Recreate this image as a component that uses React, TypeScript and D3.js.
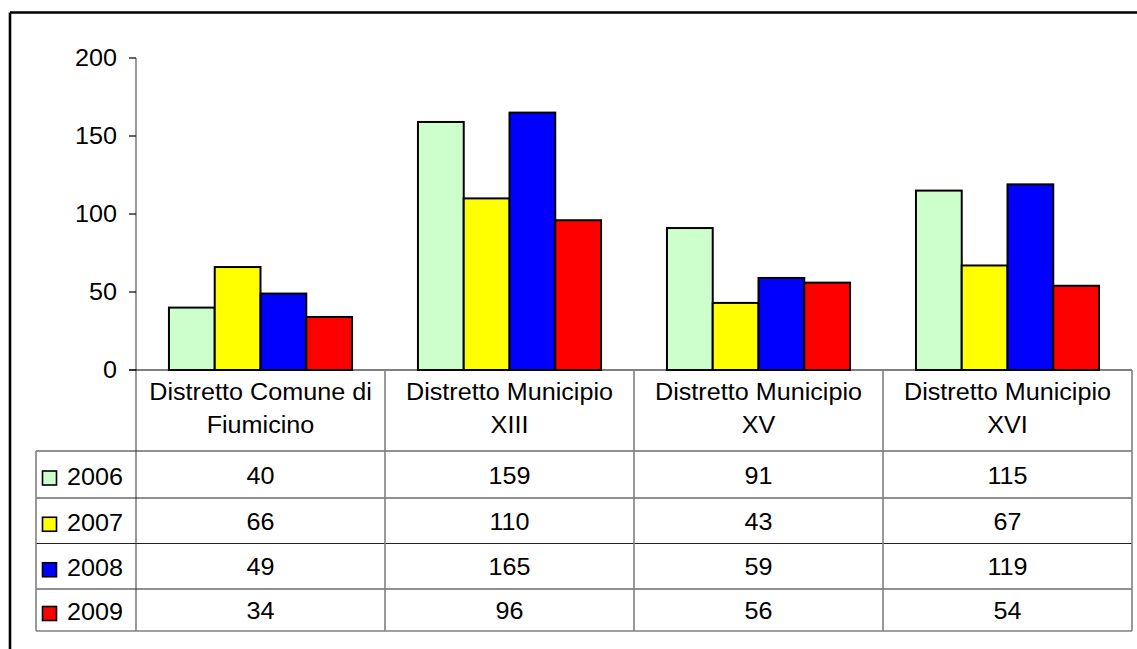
import React from "react";
import * as d3 from "d3";

// District categories (header lines) and yearly series
const categories = [
  ["Distretto Comune di", "Fiumicino"],
  ["Distretto Municipio", "XIII"],
  ["Distretto Municipio", "XV"],
  ["Distretto Municipio", "XVI"],
];
const years = ["2006", "2007", "2008", "2009"];
const values2006 = [40, 159, 91, 115];
const values2007 = [66, 110, 43, 67];
const values2008 = [49, 165, 59, 119];
const values2009 = [34, 96, 56, 54];
const seriesValues = [values2006, values2007, values2008, values2009];
const seriesColors = ["#CCFFCC", "#FFFF00", "#0000FF", "#FF0000"];
const yTicks = [0, 50, 100, 150, 200];

const W = 1137;
const H = 649;
const FONT = "'Liberation Sans', Arial, sans-serif";
const FS = 23;
const SX = 1.095;

const plotLeft = 136;
const plotRight = 1132;
const plotTop = 58;
const plotBottom = 370;
const rowLines = [451, 498, 543.5, 589, 631];
const legendLeft = 36;

type TProps = {
  x: number;
  y: number;
  anchor?: "start" | "middle" | "end";
  children: React.ReactNode;
};
function T({ x, y, anchor = "middle", children }: TProps) {
  return (
    <text
      transform={`translate(${x},${y}) scale(${SX},1)`}
      textAnchor={anchor}
      fontFamily={FONT}
      fontSize={FS}
      fill="#000"
    >
      {children}
    </text>
  );
}

export default function App() {
  const x0 = d3
    .scaleBand<number>()
    .domain(d3.range(categories.length))
    .range([plotLeft, plotRight])
    .paddingInner(0)
    .paddingOuter(0);
  const x1 = d3
    .scaleBand<number>()
    .domain(d3.range(years.length))
    .range([0, x0.bandwidth()])
    .paddingInner(0)
    .paddingOuter(0.72);
  const y = d3.scaleLinear().domain([0, 200]).range([plotBottom, plotTop]);

  const dividers = d3.range(categories.length + 1).map((i) =>
    i < categories.length ? (x0(i) as number) : plotRight
  );

  return (
    <svg
      width={W}
      height={H}
      style={{ position: "absolute", left: 0, top: 0, background: "#fff" }}
    >
      <rect x={0} y={0} width={W} height={H} fill="#fff" />
      {/* outer chart frame */}
      <line x1={10} y1={12.5} x2={W + 5} y2={12.5} stroke="#000" strokeWidth={2.6} />
      <line x1={10} y1={12.5} x2={10} y2={H + 5} stroke="#000" strokeWidth={2.6} />

      {/* bars */}
      {categories.map((_, ci) =>
        years.map((_, si) => {
          const v = seriesValues[si][ci];
          const bx = (x0(ci) as number) + (x1(si) as number);
          return (
            <rect
              key={`${ci}-${si}`}
              x={bx}
              y={y(v)}
              width={x1.bandwidth()}
              height={y(0) - y(v)}
              fill={seriesColors[si]}
              stroke="#000"
              strokeWidth={2}
            />
          );
        })
      )}

      {/* value axis */}
      <line x1={plotLeft} y1={y(200)} x2={plotLeft} y2={rowLines[rowLines.length - 1]} stroke="#808080" strokeWidth={1.6} />
      {yTicks.map((t) => (
        <g key={t}>
          <line x1={129} y1={y(t)} x2={plotLeft} y2={y(t)} stroke="#000" strokeWidth={1.2} />
          <T x={117} y={y(t) + 8} anchor="end">
            {t}
          </T>
        </g>
      ))}

      {/* data table */}
      <line x1={129} y1={plotBottom} x2={plotRight} y2={plotBottom} stroke="#000" strokeWidth={1.2} />
      {rowLines.map((ry, i) => (
        <line
          key={ry}
          x1={legendLeft}
          y1={ry}
          x2={plotRight}
          y2={ry}
          stroke={i === rowLines.length - 1 ? "#808080" : "#222"}
          strokeWidth={i === rowLines.length - 1 ? 1.6 : 1.2}
        />
      ))}
      <line x1={legendLeft} y1={rowLines[0]} x2={legendLeft} y2={rowLines[rowLines.length - 1]} stroke="#808080" strokeWidth={1.6} />
      {dividers.slice(1).map((dx) => (
        <line key={dx} x1={dx} y1={plotBottom} x2={dx} y2={rowLines[rowLines.length - 1]} stroke="#808080" strokeWidth={1.6} />
      ))}

      {categories.map((lines, ci) => {
        const cx = (x0(ci) as number) + x0.bandwidth() / 2;
        return (
          <g key={ci}>
            <T x={cx} y={400}>{lines[0]}</T>
            <T x={cx} y={432.5}>{lines[1]}</T>
          </g>
        );
      })}

      {years.map((yr, si) => {
        const mid = (rowLines[si] + rowLines[si + 1]) / 2;
        return (
          <g key={yr}>
            <rect x={42.5} y={mid - 3.5} width={14} height={14} fill={seriesColors[si]} stroke="#000" strokeWidth={1.6} />
            <T x={67} y={mid + 10} anchor="start">{yr}</T>
            {categories.map((_, ci) => (
              <T key={ci} x={(x0(ci) as number) + x0.bandwidth() / 2} y={mid + 9}>
                {seriesValues[si][ci]}
              </T>
            ))}
          </g>
        );
      })}
    </svg>
  );
}
